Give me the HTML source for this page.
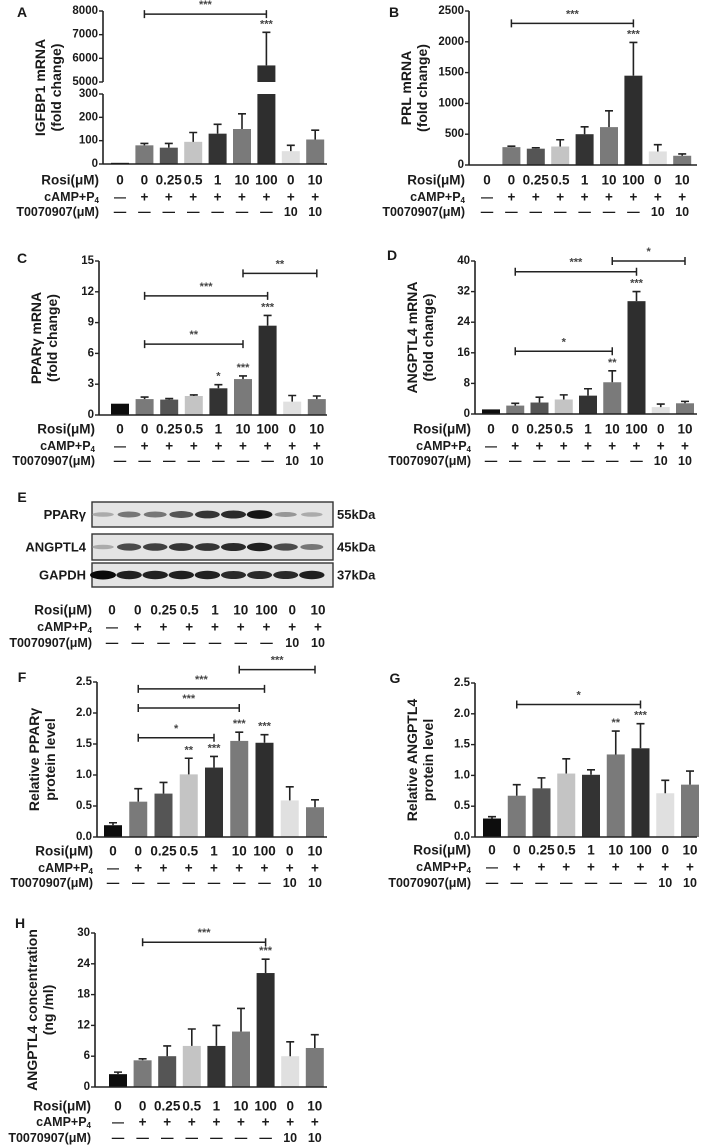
<!DOCTYPE html>
<html><head><meta charset="utf-8">
<style>
html,body{margin:0;padding:0;background:#fff;}
svg{display:block;font-family:"Liberation Sans",sans-serif;}
</style></head>
<body>
<svg id="fig" width="709" height="1148" viewBox="0 0 709 1148" xmlns="http://www.w3.org/2000/svg"></svg>
<script>
// ---- data ----
const rosiLabels = ["0","0","0.25","0.5","1","10","100","0","10"];
const campLabels = ["—","+","+","+","+","+","+","+","+"];
const tLabels = ["—","—","—","—","—","—","—","10","10"];

const aValues = [5, 80, 70, 95, 130, 150, 5700, 55, 105];
const aErrors = [0, 8, 18, 40, 40, 65, 1400, 25, 40];
const aTicksLow = [0, 100, 200, 300];
const aTicksHigh = [5000, 6000, 7000, 8000];

const bValues = [0, 290, 265, 300, 500, 615, 1450, 220, 150];
const bErrors = [0, 15, 15, 110, 120, 265, 540, 110, 30];
const bTicks = [0, 500, 1000, 1500, 2000, 2500];

const cValues = [1.1, 1.55, 1.5, 1.85, 2.6, 3.5, 8.7, 1.3, 1.55];
const cErrors = [0, 0.2, 0.1, 0.1, 0.35, 0.3, 1.0, 0.6, 0.3];
const cTicks = [0, 3, 6, 9, 12, 15];

const dValues = [1.2, 2.2, 3.0, 3.8, 4.8, 8.3, 29.5, 1.8, 2.8];
const dErrors = [0, 0.6, 1.4, 1.2, 1.8, 3.0, 2.5, 0.8, 0.5];
const dTicks = [0, 8, 16, 24, 32, 40];

const fValues = [0.19, 0.57, 0.70, 1.01, 1.12, 1.55, 1.52, 0.59, 0.48];
const fErrors = [0.04, 0.21, 0.18, 0.26, 0.18, 0.14, 0.13, 0.22, 0.12];
const fTicks = [0, 0.5, 1.0, 1.5, 2.0, 2.5];

const gValues = [0.30, 0.67, 0.79, 1.03, 1.01, 1.34, 1.44, 0.71, 0.85];
const gErrors = [0.03, 0.18, 0.17, 0.24, 0.08, 0.38, 0.40, 0.21, 0.22];
const gTicks = [0, 0.5, 1.0, 1.5, 2.0, 2.5];

const hValues = [2.5, 5.2, 6.0, 8.0, 8.0, 10.8, 22.2, 6.0, 7.6];
const hErrors = [0.4, 0.3, 2.0, 3.3, 4.0, 4.5, 2.7, 2.8, 2.6];
const hTicks = [0, 6, 12, 18, 24, 30];

// brackets: [fromBar, toBar, level(data units), stars]
const aBrackets = [[1, 6, 7870, "***"]];
const bBrackets = [[1, 6, 2300, "***"]];
const cBrackets = [[5, 8, 13.8, "**"], [1, 6, 11.6, "***"], [1, 5, 6.9, "**"]];
const dBrackets = [[5, 8, 40, "*"], [1, 6, 37.2, "***"], [1, 5, 16.4, "*"]];
const fBrackets = [[5, 8, 2.7, "***"], [1, 6, 2.39, "***"], [1, 5, 2.08, "***"], [1, 4, 1.6, "*"]];
const gBrackets = [[1, 6, 2.15, "*"]];
const hBrackets = [[1, 6, 28.2, "***"]];

// bar-top significance: [bar, stars]
const aStars = [[6, "***"]];
const bStars = [[6, "***"]];
const cStars = [[4, "*"], [5, "***"], [6, "***"]];
const dStars = [[5, "**"], [6, "***"]];
const fStars = [[3, "**"], [4, "***"], [5, "***"], [6, "***"]];
const gStars = [[5, "**"], [6, "***"]];
const hStars = [[6, "***"]];

// western blot band intensities
const bandPPARG = [0.25, 0.5, 0.5, 0.65, 0.8, 0.85, 0.95, 0.35, 0.25];
const bandANGPTL4 = [0.25, 0.7, 0.75, 0.8, 0.8, 0.85, 0.9, 0.7, 0.5];
const bandGAPDH = [1.0, 0.9, 0.9, 0.9, 0.9, 0.85, 0.85, 0.85, 0.9];

const barColors = ['#0d0d0d','#7a7a7a','#555555','#c4c4c4','#333333','#7a7a7a','#2e2e2e','#e0e0e0','#7a7a7a'];

// ---- drawing ----
const svg = document.getElementById('fig');
const NS = 'http://www.w3.org/2000/svg';
function el(tag, attrs, parent) {
  const e = document.createElementNS(NS, tag);
  for (const k in attrs) e.setAttribute(k, attrs[k]);
  (parent || svg).appendChild(e);
  return e;
}
function txt(x, y, s, size, anchor, parent, extra) {
  const t = el('text', Object.assign({x: x, y: y, 'font-size': size, 'font-weight': 'bold', 'text-anchor': anchor || 'middle', fill: '#1a1a1a', 'dominant-baseline': 'central'}, extra || {}), parent);
  t.textContent = s;
  return t;
}

function rows(g, cfg) {
  const lx = cfg.ax - 4;
  const r1 = txt(lx, cfg.rows[0], 'Rosi(μM)', 13.5, 'end', g);
  
  
  const r2 = el('text', {x: lx, y: cfg.rows[1], 'font-size': 12.5, 'font-weight': 'bold', 'text-anchor': 'end', fill: '#1a1a1a', 'dominant-baseline': 'central'}, g);
  r2.innerHTML = 'cAMP+P<tspan font-size="8" dy="3">4</tspan>';
  
  
  const r3 = txt(lx, cfg.rows[2], 'T0070907(μM)', 12.5, 'end', g);
  
  
  for (let i = 0; i < 9; i++) {
    const x = cfg.lx1 + i * cfg.ldx;
    const a = txt(x, cfg.rows[0], rosiLabels[i], 13.5, 'middle', g);
    
    
    const b = txt(x, cfg.rows[1], campLabels[i], campLabels[i] === '+' ? 13.5 : 12, 'middle', g);
    
    
    const c = txt(x, cfg.rows[2], tLabels[i], 12.5, 'middle', g);
    
    
  }
}

function yTitle(g, cfg) {
  const yc = (cfg.y0 + cfg.yT) / 2;
  const t1 = txt(cfg.ax - 63, yc, cfg.title[0], 14, 'middle', g, {transform: `rotate(-90 ${cfg.ax - 63} ${yc})`});
  
  
  const t2 = txt(cfg.ax - 47, yc, cfg.title[1], 14, 'middle', g, {transform: `rotate(-90 ${cfg.ax - 47} ${yc})`});
  
  
}

function panelLetter(g, x, y, s) {
  const t = txt(x, y, s, 14, 'middle', g);
  
  
}

function chart(cfg, values, errors, ticks, brackets, stars) {
  const g = el('g', {});
  
  
  const maxV = ticks[ticks.length - 1];
  const y = v => cfg.y0 - (v / maxV) * (cfg.y0 - cfg.yT);
  const x = i => cfg.x1 + i * cfg.dx;
  panelLetter(g, cfg.letter[0], cfg.letter[1], cfg.letter[2]);
  yTitle(g, cfg);
  const ya = el('line', {x1: cfg.ax, y1: cfg.yT, x2: cfg.ax, y2: cfg.y0, stroke: '#222', 'stroke-width': 1.6}, g);
  
  
  ticks.forEach(t => {
    el('line', {x1: cfg.ax - 4, y1: y(t), x2: cfg.ax, y2: y(t), stroke: '#222', 'stroke-width': 1.4}, g);
    const lab = txt(cfg.ax - 5, y(t), cfg.dec ? t.toFixed(1) : String(t), 11.5, 'end', g);
    
    
  });
  values.forEach((v, i) => {
    const top = y(v);
    const r = el('rect', {x: x(i) - cfg.bw / 2, y: top, width: cfg.bw, height: cfg.y0 - top, fill: barColors[i]}, g);
    
    
    if (errors[i] > 0) {
      const et = y(v + errors[i]);
      const e = el('path', {d: `M${x(i)} ${top} V${et} M${x(i) - 4} ${et} H${x(i) + 4}`, stroke: '#222', 'stroke-width': 1.6, fill: 'none'}, g);
      
      
    }
  });
  const xa = el('line', {x1: cfg.ax, y1: cfg.y0, x2: cfg.end, y2: cfg.y0, stroke: '#222', 'stroke-width': 1.6}, g);
  
  
  drawSig(g, brackets, stars, x, y, values, errors);
  rows(g, cfg);
}

function drawSig(g, brackets, stars, x, y, values, errors) {
  brackets.forEach(b => {
    const yy = y(b[2]);
    const p = el('path', {d: `M${x(b[0])} ${yy - 4} V${yy + 4} M${x(b[0])} ${yy} H${x(b[1])} M${x(b[1])} ${yy - 4} V${yy + 4}`, stroke: '#222', 'stroke-width': 1.5, fill: 'none'}, g);
    
    
    const s = txt((x(b[0]) + x(b[1])) / 2, yy - 9, b[3], 11, 'middle', g, {fill: '#444'});
    
    
  });
  stars.forEach(s => {
    const yy = y(values[s[0]] + errors[s[0]]) - 8;
    const t = txt(x(s[0]), yy, s[1], 11, 'middle', g, {fill: '#444'});
    
    
  });
}

// Panel A (broken axis)
(function () {
  const cfg = {name: 'panel-a-igfbp1', ax: 103, x1: 120, dx: 24.4, bw: 18, end: 327, y0: 164, yT: 11,
    lx1: 120, ldx: 24.4, rows: [180, 197, 212], title: ['IGFBP1 mRNA', '(fold change)'], letter: [22, 12, 'A']};
  const g = el('g', {});
  
  
  const lowTop = 94, highBot = 82;
  const lo = aTicksLow[aTicksLow.length - 1], hiMin = aTicksHigh[0], hiMax = aTicksHigh[aTicksHigh.length - 1];
  const y = v => v <= lo ? cfg.y0 - v / lo * (cfg.y0 - lowTop) : highBot - (v - hiMin) / (hiMax - hiMin) * (highBot - cfg.yT);
  const x = i => cfg.x1 + i * cfg.dx;
  panelLetter(g, 22, 12, 'A');
  yTitle(g, cfg);
  const ya1 = el('line', {x1: cfg.ax, y1: lowTop, x2: cfg.ax, y2: cfg.y0, stroke: '#222', 'stroke-width': 1.6}, g);
  
  
  const ya2 = el('line', {x1: cfg.ax, y1: cfg.yT, x2: cfg.ax, y2: highBot, stroke: '#222', 'stroke-width': 1.6}, g);
  
  
  aTicksLow.concat(aTicksHigh).forEach(t => {
    el('line', {x1: cfg.ax - 4, y1: y(t), x2: cfg.ax, y2: y(t), stroke: '#222', 'stroke-width': 1.4}, g);
    const lab = txt(cfg.ax - 5, y(t), String(t), 11.5, 'end', g);
    
    
  });
  aValues.forEach((v, i) => {
    const top = y(v);
    if (v > lo) {
      const r1 = el('rect', {x: x(i) - cfg.bw / 2, y: lowTop, width: cfg.bw, height: cfg.y0 - lowTop, fill: barColors[i]}, g);
      
      
      const r2 = el('rect', {x: x(i) - cfg.bw / 2, y: top, width: cfg.bw, height: highBot - top, fill: barColors[i]}, g);
      
      
    } else {
      const r = el('rect', {x: x(i) - cfg.bw / 2, y: top, width: cfg.bw, height: cfg.y0 - top, fill: barColors[i]}, g);
      
      
    }
    if (aErrors[i] > 0) {
      const et = y(v + aErrors[i]);
      const e = el('path', {d: `M${x(i)} ${top} V${et} M${x(i) - 4} ${et} H${x(i) + 4}`, stroke: '#222', 'stroke-width': 1.6, fill: 'none'}, g);
      
      
    }
  });
  const xa = el('line', {x1: cfg.ax, y1: cfg.y0, x2: cfg.end, y2: cfg.y0, stroke: '#222', 'stroke-width': 1.6}, g);
  
  
  drawSig(g, aBrackets, aStars, x, y, aValues, aErrors);
  rows(g, cfg);
})();

chart({name: 'panel-b-prl', ax: 469, x1: 487, dx: 24.4, bw: 18, end: 697, y0: 165, yT: 11,
  lx1: 487, ldx: 24.4, rows: [180, 197, 212], title: ['PRL mRNA', '(fold change)'], letter: [394, 12, 'B']},
  bValues, bErrors, bTicks, bBrackets, bStars);
chart({name: 'panel-c-pparg', ax: 99, x1: 120, dx: 24.6, bw: 18, end: 327, y0: 415, yT: 261,
  lx1: 120, ldx: 24.6, rows: [429, 446, 461], title: ['PPARγ  mRNA', '(fold change)'], letter: [22, 258, 'C']},
  cValues, cErrors, cTicks, cBrackets, cStars);
chart({name: 'panel-d-angptl4', ax: 475, x1: 491, dx: 24.25, bw: 18, end: 697, y0: 414, yT: 261,
  lx1: 491, ldx: 24.25, rows: [429, 446, 461], title: ['ANGPTL4  mRNA', '(fold change)'], letter: [392, 255, 'D']},
  dValues, dErrors, dTicks, dBrackets, dStars);
chart({name: 'panel-f-pparg-protein', ax: 97, x1: 113, dx: 25.25, bw: 18, end: 327, y0: 837, yT: 682, dec: true,
  lx1: 113, ldx: 25.25, rows: [851, 868, 883], title: ['Relative PPARγ', 'protein level'], letter: [22, 677, 'F']},
  fValues, fErrors, fTicks, fBrackets, fStars);
chart({name: 'panel-g-angptl4-protein', ax: 475, x1: 492, dx: 24.75, bw: 18, end: 697, y0: 837, yT: 683, dec: true,
  lx1: 492, ldx: 24.75, rows: [850, 867, 883], title: ['Relative ANGPTL4', 'protein level'], letter: [395, 678, 'G']},
  gValues, gErrors, gTicks, gBrackets, gStars);
chart({name: 'panel-h-angptl4-elisa', ax: 95, x1: 118, dx: 24.6, bw: 18, end: 327, y0: 1087, yT: 933,
  lx1: 118, ldx: 24.6, rows: [1106, 1122, 1138], title: ['ANGPTL4 concentration', '(ng /ml)'], letter: [20, 923, 'H']},
  hValues, hErrors, hTicks, hBrackets, hStars);

// Panel E western blot
(function () {
  const g = el('g', {});
  
  
  panelLetter(g, 22, 497, 'E');
  const blots = [
    {label: 'PPARγ', kda: '55kDa', y: 502, h: 25, bands: bandPPARG, name: 'pparg-blot'},
    {label: 'ANGPTL4', kda: '45kDa', y: 534, h: 26, bands: bandANGPTL4, name: 'angptl4-blot'},
    {label: 'GAPDH', kda: '37kDa', y: 563, h: 24, bands: bandGAPDH, name: 'gapdh-blot'}
  ];
  const bx = i => 103 + i * 26.1;
  blots.forEach(b => {
    const r = el('rect', {x: 92, y: b.y, width: 241, height: b.h, fill: '#e4e4e4', stroke: '#333', 'stroke-width': 1.4}, g);
    
    
    b.bands.forEach((v, i) => {
      const gray = Math.round(225 - v * 215);
      const e = el('ellipse', {cx: bx(i), cy: b.y + b.h / 2, rx: 10 + v * 3, ry: 1.5 + v * 3, fill: `rgb(${gray},${gray},${gray})`}, g);
      
      
    });
    const l = txt(86, b.y + b.h / 2, b.label, 13, 'end', g);
    
    
    const k = txt(337, b.y + b.h / 2, b.kda, 13, 'start', g);
    
    
  });
  rows(g, {ax: 96, lx1: 112, ldx: 25.75, rows: [610, 627, 643]});
})();
</script>
</body></html>
